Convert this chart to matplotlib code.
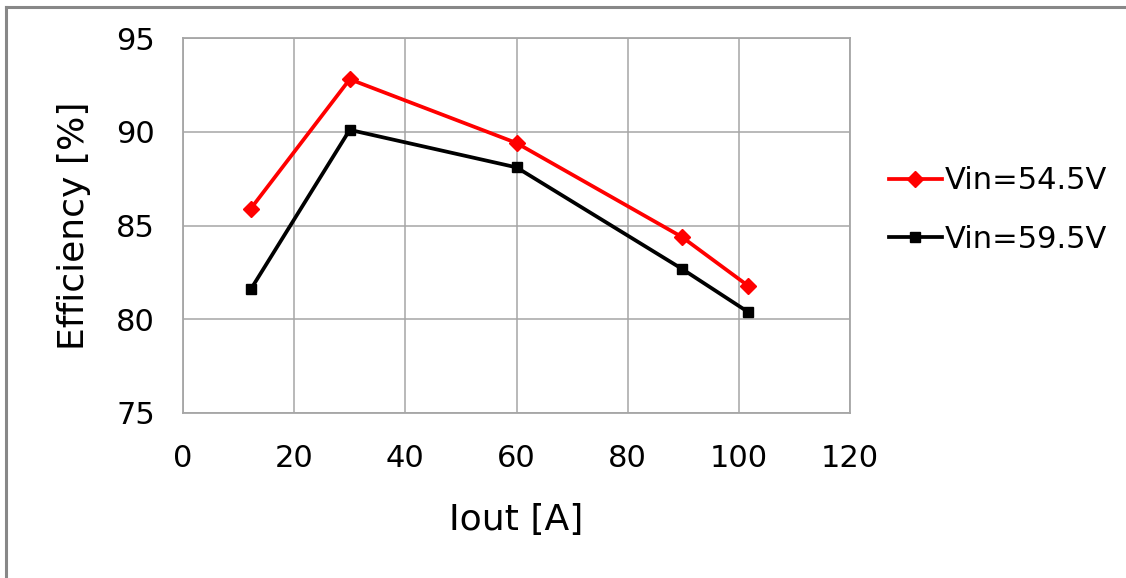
import matplotlib.pyplot as plt
from matplotlib.lines import Line2D

# Data
iout_545 = [12.2, 30.0, 60.0, 89.7, 101.6]
eff_545 = [85.9, 92.8, 89.4, 84.4, 81.8]
iout_595 = [12.2, 30.0, 60.0, 89.7, 101.6]
eff_595 = [81.6, 90.1, 88.1, 82.7, 80.4]
labels = ['Vin=54.5V', 'Vin=59.5V']

grid_color = '#A6A6A6'

fig = plt.figure(figsize=(11.26, 5.78), dpi=100)
ax = fig.add_axes([183 / 1126, 1 - 413 / 578, (850 - 183) / 1126, (413 - 38) / 578])

ax.plot(iout_545, eff_545, color='#FF0000', lw=2.7, marker='D', ms=8, label=labels[0])
ax.plot(iout_595, eff_595, color='black', lw=2.7, marker='s', ms=7, label=labels[1])

ax.set_xlim(0, 120)
ax.set_ylim(75, 95)
ax.set_xticks(range(0, 121, 20))
ax.set_yticks(range(75, 96, 5))
ax.grid(True, color=grid_color, lw=1.1)
ax.set_axisbelow(True)
for spine in ax.spines.values():
    spine.set_color(grid_color)
    spine.set_linewidth(1.3)
ax.tick_params(length=0, labelsize=22)
ax.tick_params(axis='x', pad=22)
ax.tick_params(axis='y', pad=20)

ax.set_xlabel('Iout [A]', fontsize=26, labelpad=22)
ax.set_ylabel('Efficiency [%]', fontsize=26, labelpad=18)

fig.legend(loc='center left', bbox_to_anchor=(861 / 1126, 1 - 210 / 578),
           frameon=False, fontsize=22, handlelength=1.75, handletextpad=0.1,
           labelspacing=0.95)

# outer chart border (top and left visible)
fig.add_artist(Line2D([6 / 1126, 1], [1 - 7 / 578, 1 - 7 / 578], color='#888888', lw=2.2))
fig.add_artist(Line2D([6 / 1126, 6 / 1126], [0, 1 - 7 / 578], color='#888888', lw=2.2))

fig.savefig('out.png', dpi=100)
